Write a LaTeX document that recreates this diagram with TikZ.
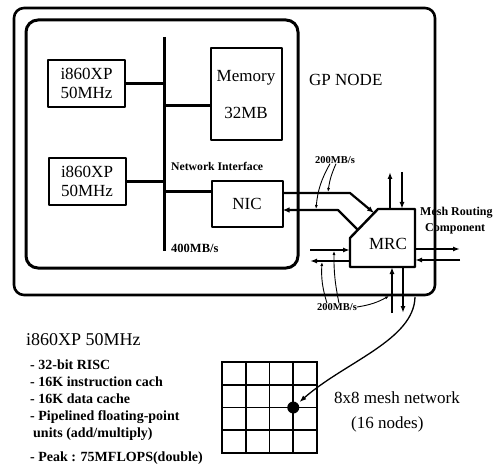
\documentclass[tikz,border=0pt]{standalone}
\usepackage{fontspec}
\setmainfont{Liberation Serif}
\usetikzlibrary{arrows.meta,calc}

\tikzset{
  box/.style={draw, line width=2pt, inner sep=0pt, outer sep=0pt, align=center,
              font=\fontsize{17}{19}\selectfont},
  wire/.style={line width=3pt},
  link/.style={line width=2.2pt, -{Latex[length=7pt,width=5.5pt]}},
  flow/.style={line width=1.6pt, -{Latex[length=7pt,width=5pt]}},
  pointer/.style={line width=0.9pt, -{Latex[length=4pt,width=3pt]}},
  rate/.style={inner sep=0pt, font=\bfseries\fontsize{10.5}{12}\selectfont},
  small/.style={inner sep=0pt, anchor=west, font=\bfseries\fontsize{11.7}{13}\selectfont},
  mesh/.style={line width=1.8pt, line cap=rect}
}

\begin{document}
\begin{tikzpicture}[x=1pt, y=-1pt, line join=round]

  %% ════ frames ════
  \draw[line width=2.6pt, rounded corners=10pt] (14,8) rectangle (435,295);   % GP node
  \draw[line width=3pt, rounded corners=12pt] (26,20) rectangle (298,268);    % board

  %% ════ boxes ════
  \node[box, minimum width=77, minimum height=47] (cpuA) at (86.5,83.5) {i860XP\\50MHz};
  \node[box, minimum width=77, minimum height=47] (cpuB) at (87,181.5) {i860XP\\50MHz};
  \node[box, minimum width=71, minimum height=92] (mem) at (246,94.5) {Memory\\[18pt]32MB};
  \node[box, minimum width=71, minimum height=46] (nic) at (247,204) {NIC};

  %% ════ bus ════
  \coordinate (busTop) at (164,37);
  \coordinate (busBot) at (164,251);
  \coordinate (memPort) at ([yshift=-11.5pt]mem.west);
  \coordinate (nicPort) at ([yshift=12pt]nic.west);
  \draw[wire] (busTop) -- (busBot);
  \draw[wire] (cpuA.east) -- (cpuA.east -| busTop);
  \draw[wire] (cpuB.east) -- (cpuB.east -| busTop);
  \draw[wire] (memPort) -- (memPort -| busTop);
  \draw[wire] (nicPort) -- (nicPort -| busTop);

  %% ════ MRC ════
  \node[inner sep=0pt, outer sep=0pt, minimum width=65, minimum height=58] (mrc) at (382.5,238) {};
  \coordinate (cutTop) at ([xshift=28pt]mrc.north west);
  \draw[line width=2.4pt] (cutTop) -- (mrc.north east) -- (mrc.south east)
        -- (mrc.south west) -- (mrc.west) -- cycle;
  \node[inner sep=0pt, font=\fontsize{17}{19}\selectfont] (mrcText) at (388,244) {MRC};

  %% NIC <-> MRC
  \coordinate (nicOut) at ([yshift=11pt]nic.east);
  \coordinate (nicIn) at ([yshift=-6pt]nic.east);
  \draw[link] (nicOut) -- (nicOut -| mrc.west) -- ($(mrc.west)!0.86!(cutTop)$);
  \draw[link] ($(mrc.west)!0.28!(cutTop)$) -- ([xshift=-12pt]nicIn -| mrc.west) -- (nicIn);

  %% four directions
  \draw[flow] ([xshift=7.5pt]mrc.north) -- ++(0,-37);
  \draw[flow] ([xshift=19.5pt]mrc.north) ++(0,-37) -- ([xshift=19.5pt]mrc.north);
  \draw[flow] ([xshift=9.5pt]mrc.south) ++(0,46) -- ([xshift=9.5pt]mrc.south);
  \draw[flow] ([xshift=20.5pt]mrc.south) -- ++(0,46);
  \draw[flow] ([yshift=-11pt]mrc.east) -- ++(45,0);
  \draw[flow] ([yshift=-22pt]mrc.east) ++(45,0) -- ([yshift=-22pt]mrc.east);
  \draw[flow] ([yshift=-12pt]mrc.west) ++(-40,0) -- ([yshift=-12pt]mrc.west);
  \draw[flow] ([yshift=-23pt]mrc.west) -- ++(-40,0);

  %% ════ rate labels ════
  \node[rate] (rateTop) at (335,160) {200MB/s};
  \coordinate (tapA) at (316,209);
  \coordinate (tapB) at (328,192);
  \draw[pointer] ([xshift=-5pt]rateTop.south) to[bend right=12] (tapA);
  \draw[pointer] ([xshift=1pt]rateTop.south) to[bend right=8] (tapB);

  \node[rate] (rateBot) at (337,307) {200MB/s};
  \coordinate (tapC) at (322,262);
  \coordinate (tapD) at (334,251);
  \coordinate (tapE) at (389,296);
  \draw[pointer] ([xshift=-10pt]rateBot.north) to[bend left=10] (tapC);
  \draw[pointer] ([xshift=2pt]rateBot.north) to[bend left=6] (tapD);
  \draw[pointer] (rateBot.east) to[bend right=10] (tapE);

  %% ════ texts ════
  \node[small] (nifLbl) at (171,166) {Network Interface};
  \node[small, font=\bfseries\fontsize{12.5}{14}\selectfont] (busLbl) at (171,248) {400MB/s};
  \node[inner sep=0pt, anchor=west, font=\fontsize{17}{19}\selectfont] (gpLbl) at (309,80) {GP NODE};
  \node[inner sep=0pt, anchor=west, align=left, font=\bfseries\fontsize{12}{16}\selectfont]
       (mrcLbl) at (420,221) {Mesh Routing\\\hspace*{5pt}Component};

  \node[inner sep=0pt, anchor=west, font=\fontsize{18}{20}\selectfont] (cpuTitle) at (26,340) {i860XP 50MHz};
  \node[inner sep=0pt, anchor=north west, align=left, font=\bfseries\fontsize{14}{17}\selectfont]
       (specs) at (30,360) {- 32-bit RISC\\- 16K instruction cach\\- 16K data cache\\
       - Pipelined floating-point\\\hspace*{3pt}units (add/multiply)\\[7pt]
       - Peak : 75MFLOPS(double)};

  %% ════ mesh ════
  \foreach \i in {0,...,4} {
    \draw[mesh] (222+23.75*\i,362) -- (222+23.75*\i,453);
    \draw[mesh] (222,362+22.75*\i) -- (317,362+22.75*\i);
  }
  \node[circle, fill, minimum size=12, inner sep=0pt] (hub) at (293.25,407.5) {};
  \coordinate (linkStart) at ([yshift=-30pt]mrc.south east);
  \draw[flow, line width=1.3pt, shorten >=2pt] (linkStart) .. controls (414,340) and (345,362) .. (hub);

  \node[inner sep=0pt, anchor=west, align=left, font=\fontsize{17}{25}\selectfont]
       (meshLbl) at (334,412) {8x8 mesh network\\\hspace*{17pt}(16 nodes)};

  \pgfresetboundingbox
  \path[use as bounding box] (0,0) rectangle (498,465);
\end{tikzpicture}
\end{document}
